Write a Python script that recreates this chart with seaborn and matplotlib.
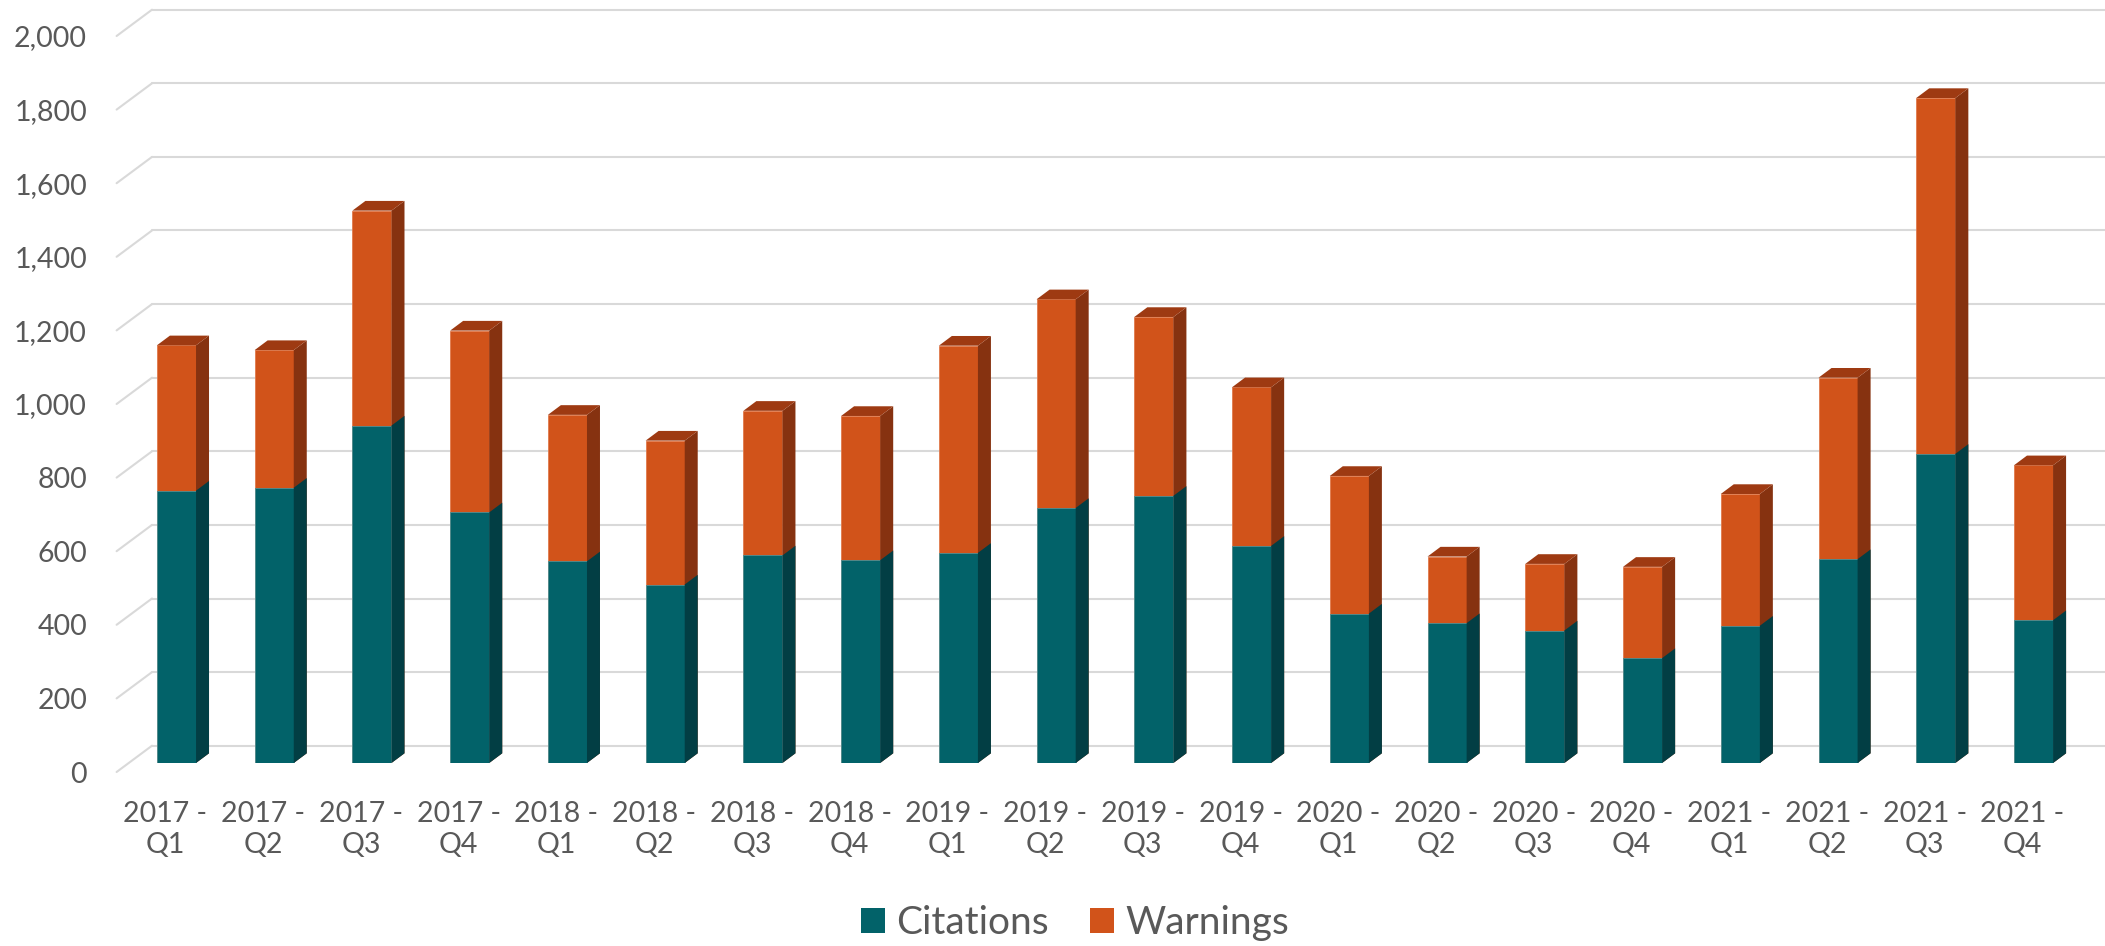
import matplotlib
matplotlib.use("Agg")
import matplotlib.pyplot as plt
import seaborn as sns
import pandas as pd
from matplotlib.patches import Polygon, Patch
from matplotlib.lines import Line2D
from matplotlib.transforms import ScaledTranslation

# ---- data ----
quarters = ["2017 - Q1", "2017 - Q2", "2017 - Q3", "2017 - Q4",
            "2018 - Q1", "2018 - Q2", "2018 - Q3", "2018 - Q4",
            "2019 - Q1", "2019 - Q2", "2019 - Q3", "2019 - Q4",
            "2020 - Q1", "2020 - Q2", "2020 - Q3", "2020 - Q4",
            "2021 - Q1", "2021 - Q2", "2021 - Q3", "2021 - Q4"]
citations = [740, 748, 917, 681, 548, 485, 564, 551, 571, 693,
             726, 590, 406, 380, 360, 285, 373, 554, 840, 388]
warnings_ = [395, 374, 584, 494, 398, 391, 393, 392, 563, 567,
             486, 431, 374, 181, 181, 248, 358, 493, 967, 421]
series_names = ["Citations", "Warnings"]
y_ticks = list(range(0, 2001, 200))

totals = [c + w for c, w in zip(citations, warnings_)]
df = pd.DataFrame({"quarter": quarters, "Citations": citations,
                   "Warnings": warnings_, "Total": totals})

# ---- styles ----
TEAL, TEAL_SIDE = "#026269", "#023E44"
ORANGE, ORANGE_SIDE, ORANGE_TOP = "#D1531A", "#863210", "#9E3A12"
GRID = "#D9D9D9"
TXT = "#595959"

sns.set_theme(style="white")
plt.rcParams["font.family"] = ["Lato", "DejaVu Sans"]

W, H, DPI = 2105, 946, 100
fig = plt.figure(figsize=(W / DPI, H / DPI), dpi=DPI)
ax_left, ax_right = 127.6, 2082.4          # pixels (front plane)
ax_top, ax_bottom = 27.0, 763.0
ax = fig.add_axes([ax_left / W, 1 - ax_bottom / H,
                   (ax_right - ax_left) / W, (ax_bottom - ax_top) / H])

sns.barplot(data=df, x="quarter", y="Total", color=ORANGE, saturation=1,
            width=0.40, ax=ax, zorder=3, edgecolor="#E07A4C", linewidth=0.6)
sns.barplot(data=df, x="quarter", y="Citations", color=TEAL, saturation=1,
            width=0.40, ax=ax, zorder=4, edgecolor="#4F8F94", linewidth=0.6)
n = len(quarters)
ax.set_xlim(-0.5, n - 0.5)
ax.set_ylim(0, 2000)

px_x = (ax_right - ax_left) / n           # pixels per category
px_y = (ax_bottom - ax_top) / 2000.0      # pixels per unit

# 3D offsets (pixels) converted to data units
bdx, bdy = 13.0 / px_x, 9.7 / px_y        # bar depth
wdx, wdy = 24.4 / px_x, 17.3 / px_y       # back wall
fdx, fdy = -11.0 / px_x, -9.0 / px_y      # floor front

patches = list(ax.patches)
tot_p, cit_p = patches[:n], patches[n:2 * n]
for p in tot_p:
    x0, w, h = p.get_x(), p.get_width(), p.get_height()
    xr = x0 + w
    ax.add_patch(Polygon([(xr, 0), (xr + bdx, bdy), (xr + bdx, h + bdy), (xr, h)],
                         closed=True, fc=ORANGE_SIDE, ec="none", zorder=3))
    ax.add_patch(Polygon([(x0, h), (x0 + bdx, h + bdy), (xr + bdx, h + bdy), (xr, h)],
                         closed=True, fc=ORANGE_TOP, ec="none", zorder=3,
                         clip_on=False))
for p in cit_p:
    x0, w, h = p.get_x(), p.get_width(), p.get_height()
    xr = x0 + w
    ax.add_patch(Polygon([(xr, 0), (xr + bdx, bdy), (xr + bdx, h + bdy), (xr, h)],
                         closed=True, fc=TEAL_SIDE, ec="none", zorder=4))

# back-wall gridlines with floor diagonals
x_end = (W - ax_left) / px_x - 0.5
for v in y_ticks:
    ax.add_line(Line2D([-0.5 + fdx, -0.5 + wdx], [v + fdy, v + wdy],
                       color=GRID, lw=1.5, zorder=0, clip_on=False))
    ax.add_line(Line2D([-0.5 + wdx, x_end], [v + wdy, v + wdy],
                       color=GRID, lw=1.5, zorder=0, clip_on=False))

for s in ax.spines.values():
    s.set_visible(False)
ax.grid(False)
ax.set_xlabel("")
ax.set_ylabel("")

ax.set_yticks(y_ticks)
ax.set_yticklabels([f"{t:,}" for t in y_ticks])
ax.set_xticks(range(n))
ax.set_xticklabels([q.replace(" - ", " -\n") for q in quarters],
                   linespacing=1.22)
ax.tick_params(axis="y", length=0, pad=29.2, labelsize=20.5, labelcolor=TXT)
ax.tick_params(axis="x", length=0, pad=27.5, labelsize=20.5, labelcolor=TXT)
for lbl in ax.get_yticklabels():
    lbl.set_transform(lbl.get_transform() +
                      ScaledTranslation(0, -9 / DPI, fig.dpi_scale_trans))
for lbl in ax.get_xticklabels():
    lbl.set_transform(lbl.get_transform() +
                      ScaledTranslation(-11 / DPI, 0, fig.dpi_scale_trans))

handles = [Patch(fc=TEAL, ec="none"), Patch(fc=ORANGE, ec="none")]
fig.legend(handles=handles, labels=series_names, loc="center",
           bbox_to_anchor=(0.5107, 0.024), ncol=2, frameon=False,
           fontsize=28, handlelength=0.62, handleheight=0.62,
           handletextpad=0.3, columnspacing=1.05, labelcolor=TXT)

fig.savefig("out.png", dpi=DPI, facecolor="white")
